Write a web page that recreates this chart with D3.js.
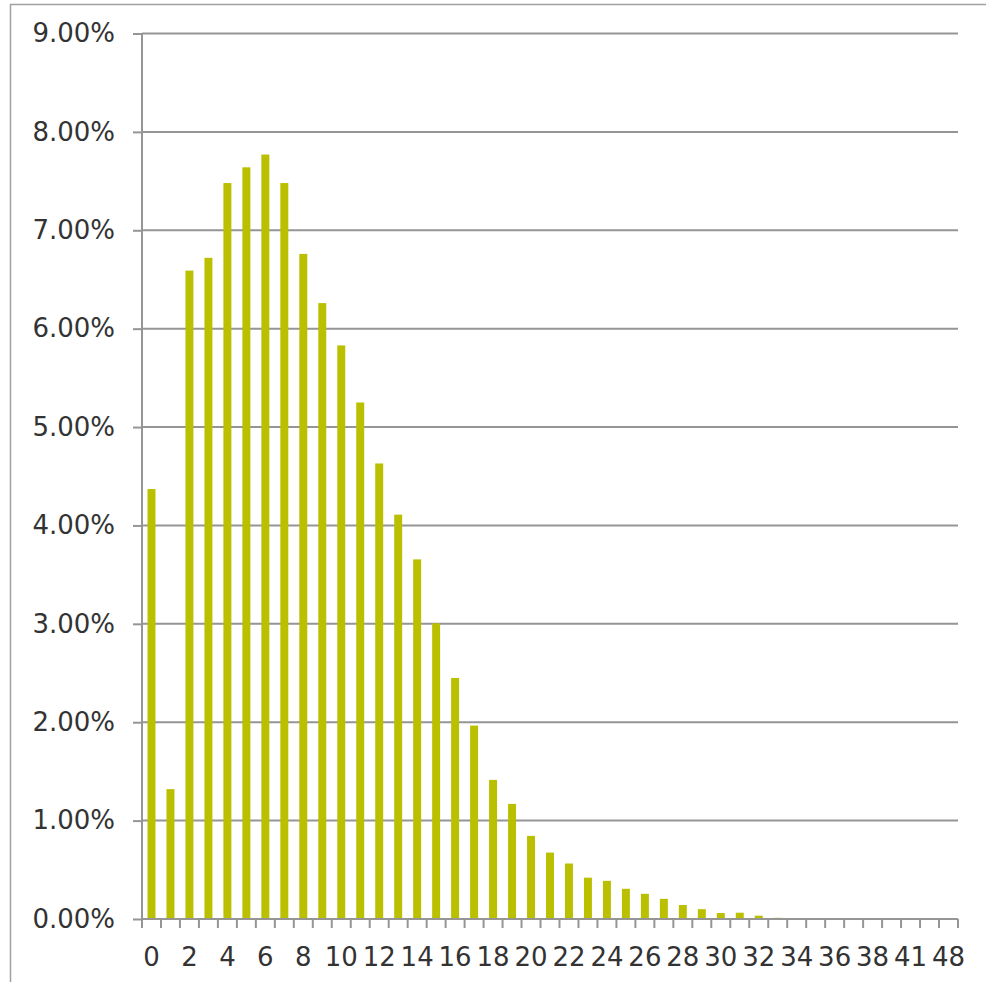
<!DOCTYPE html>
<html>
<head>
<meta charset="utf-8">
<script src="https://cdn.jsdelivr.net/npm/d3@7"></script>
<style>
  html, body { margin: 0; padding: 0; background: #fff; }
  svg { display: block; }
</style>
</head>
<body>
<svg id="chart" width="986" height="982"></svg>
<script>
const categories = ["0","1","2","3","4","5","6","7","8","9","10","11","12","13","14","15","16","17","18","19",
  "20","21","22","23","24","25","26","27","28","29","30","31","32","33","34","35","36","37","38","39","41","44","48"];
const values = [4.37,1.32,6.59,6.72,7.48,7.64,7.77,7.48,6.76,6.26,5.83,5.25,4.63,4.11,3.655,3.005,2.45,1.966,1.414,1.17,
  0.845,0.675,0.564,0.42,0.388,0.307,0.256,0.205,0.142,0.10,0.061,0.064,0.034,0.012,0,0,0,0,0,0,0,0,0].map(v => v / 100);
const yTicks = [0,0.01,0.02,0.03,0.04,0.05,0.06,0.07,0.08,0.09];
const xTickLabels = categories.filter((c, i) => i % 2 === 0);

const svg = d3.select("#chart");
const plotLeft = 142, plotRight = 958, plotTop = 33.5, plotBottom = 919;
const gridColor = "#959595";
const textColor = "#333333";
const barColor = "#bac000";
const font = "'DejaVu Sans', Verdana, sans-serif";

// outer frame
svg.append("rect").attr("x", 10.5).attr("y", 4.5).attr("width", 1000).attr("height", 1000)
  .attr("fill", "none").attr("stroke", "#a0a0a0").attr("stroke-width", 1.5);

const x = d3.scaleBand().domain(categories).range([plotLeft, plotRight]).paddingInner(0.58).paddingOuter(0.29);
const y = d3.scaleLinear().domain([0, 0.09]).range([plotBottom, plotTop]);

// gridlines
svg.append("g").selectAll("line").data(yTicks.filter(t => t > 0)).join("line")
  .attr("x1", plotLeft).attr("x2", plotRight)
  .attr("y1", d => y(d)).attr("y2", d => y(d))
  .attr("stroke", gridColor).attr("stroke-width", 2);

// bars
svg.append("g").selectAll("rect").data(values).join("rect")
  .attr("x", (d, i) => x(categories[i]))
  .attr("width", x.bandwidth())
  .attr("y", d => y(d))
  .attr("height", d => y(0) - y(d))
  .attr("fill", barColor);

// y axis
const yAxis = d3.axisLeft(y).tickValues(yTicks).tickFormat(d3.format(".2%")).tickSize(9).tickPadding(18);
const gy = svg.append("g").attr("transform", `translate(${plotLeft},0)`).call(yAxis);
gy.select(".domain").attr("stroke", gridColor).attr("stroke-width", 2).attr("d", `M0,${plotTop}V${plotBottom}`);
gy.selectAll(".tick line").attr("stroke", gridColor).attr("stroke-width", 2);
gy.selectAll(".tick text").attr("fill", textColor).style("font-family", font).style("font-size", "26px");

// x axis with ticks at band boundaries
const xAxis = d3.axisBottom(x).tickValues(xTickLabels).tickSize(0).tickPadding(29);
const gx = svg.append("g").attr("transform", `translate(0,${plotBottom})`).call(xAxis);
gx.select(".domain").attr("stroke", gridColor).attr("stroke-width", 2).attr("d", `M${plotLeft},0H${plotRight}`);
gx.selectAll(".tick text").attr("fill", textColor).style("font-family", font).style("font-size", "26px");
const step = x.step();
const bounds = d3.range(categories.length + 1).map(i => plotLeft + i * step);
gx.append("g").selectAll("line").data(bounds).join("line")
  .attr("x1", d => d).attr("x2", d => d).attr("y1", 0).attr("y2", 9)
  .attr("stroke", gridColor).attr("stroke-width", 2);
</script>
</body>
</html>
